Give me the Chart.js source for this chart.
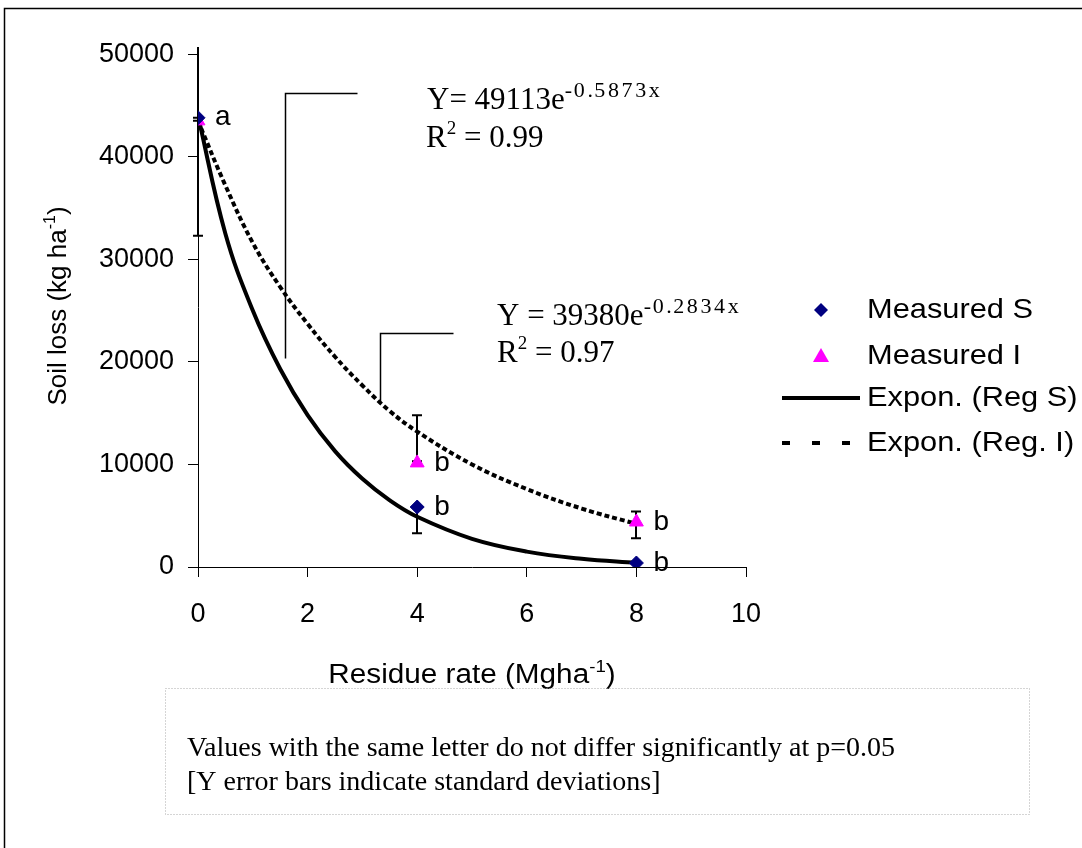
<!DOCTYPE html>
<html>
<head>
<meta charset="utf-8">
<script src="https://cdn.jsdelivr.net/npm/chart.js@4.4.1/dist/chart.umd.min.js"></script>
<style>
  body { margin: 0; background: #fff; }
  canvas { display: block; }
</style>
</head>
<body>
<canvas id="grafica" width="1082" height="848"></canvas>
<script>
// =======================
// DATOS
// =======================

// puntos medidos
const residuo = [0, 4, 8];
const medidoS = [43800, 5850, 390];
const medidoI = [43500, 10150, 4390];
const letrasS = ['a', 'b', 'b'];
const letrasI = ['', 'b', 'b'];

// barras de error (desv. estandar), bajo / alto
const errBajoS = [32300, 3300, null];
const errAltoS = [43800, 5850, null];
const errBajoI = [43500, 10300, 2800];
const errAltoI = [51500, 14800, 5400];

// lineas de tendencia
const xCurva = [0, 0.5, 1, 1.5, 2, 2.5, 3, 3.5, 4, 5, 6, 7, 8];
const curvaS = [44000, 32500, 25000, 19300, 14800, 11300, 8600, 6500, 4900, 2750, 1500, 800, 400];
const curvaI = [43500, 37200, 31600, 27300, 23700, 20500, 17700, 15200, 13200, 10000, 7600, 5700, 4200];

// ticks
const ticksX = [0, 2, 4, 6, 8, 10];
const ticksY = [0, 10000, 20000, 30000, 40000, 50000];

// lineas guia de las ecuaciones (coordenadas de datos)
const guiaS = { x: [1.59, 1.59, 2.9], y: [20380, 46220, 46220] };
const guiaI = { x: [3.32, 3.32, 4.65], y: [16090, 22820, 22820] };

const ARIAL = "'Liberation Sans', Arial, sans-serif";
const TIMES = "'Liberation Serif', 'Times New Roman', serif";

function pares(xs, ys) {
  return xs.map((x, i) => ({ x: x, y: ys[i] }));
}

// texto con superindices: partes = [[texto, tipo], ...]
// tipo: 0 normal, 1 superindice, 2 exponente (algo mas espaciado)
function textoSup(ctx, partes, x, y, tam, familia, dibujar = true) {
  let cx = x;
  partes.forEach(([t, tipo]) => {
    if (!tipo) {
      ctx.font = tam + 'px ' + familia;
      if (dibujar) ctx.fillText(t, cx, y);
      cx += ctx.measureText(t).width;
    } else if (tipo === 1) {
      ctx.font = Math.round(tam * 0.62) + 'px ' + familia;
      if (dibujar) ctx.fillText(t, cx, y - tam * 0.42);
      cx += ctx.measureText(t).width;
    } else {
      for (const c of t) {
        ctx.font = tam + 'px ' + familia;
        const w = ctx.measureText(c).width * 0.88;
        ctx.font = Math.round(tam * 0.7) + 'px ' + familia;
        if (dibujar) ctx.fillText(c, cx, y - tam * 0.4);
        cx += Math.max(w, ctx.measureText(c).width);
      }
    }
  });
  return cx - x;
}

const dibujo = {
  id: 'dibujo',
  beforeDraw(chart) {
    const ctx = chart.ctx;
    ctx.save();
    ctx.fillStyle = '#fff';
    ctx.fillRect(0, 0, chart.width, chart.height);
    ctx.restore();
  },
  beforeDatasetsDraw(chart) {
    const { ctx, chartArea, scales: { x, y } } = chart;
    ctx.save();
    ctx.beginPath();
    ctx.rect(chartArea.left - 10, chartArea.top, chartArea.width + 20, chartArea.height + 10);
    ctx.clip();
    ctx.strokeStyle = '#000';
    ctx.lineWidth = 2;
    const barra = (xv, lo, hi) => {
      if (lo == null || hi == null) return;
      const px = Math.round(x.getPixelForValue(xv));
      const p1 = y.getPixelForValue(lo), p2 = y.getPixelForValue(hi);
      ctx.beginPath();
      ctx.moveTo(px, p1); ctx.lineTo(px, p2);
      ctx.moveTo(px - 5, p1); ctx.lineTo(px + 5, p1);
      ctx.moveTo(px - 5, p2); ctx.lineTo(px + 5, p2);
      ctx.stroke();
    };
    residuo.forEach((r, i) => {
      barra(r, errBajoS[i], errAltoS[i]);
      barra(r, errBajoI[i], errAltoI[i]);
    });
    ctx.restore();
  },
  afterDatasetsDraw(chart) {
    const { ctx, scales: { x, y } } = chart;
    ctx.save();
    // letras de significancia
    ctx.fillStyle = '#000';
    ctx.font = '28px ' + ARIAL;
    ctx.textAlign = 'left';
    ctx.textBaseline = 'middle';
    residuo.forEach((r, i) => {
      const px = x.getPixelForValue(r) + 17;
      if (letrasS[i]) ctx.fillText(letrasS[i], px, y.getPixelForValue(medidoS[i]));
      if (letrasI[i]) ctx.fillText(letrasI[i], px, y.getPixelForValue(medidoI[i]));
    });
    // lineas guia
    ctx.strokeStyle = '#000';
    ctx.lineWidth = 1.5;
    [guiaS, guiaI].forEach(g => {
      ctx.beginPath();
      g.x.forEach((xv, i) => {
        const px = Math.round(x.getPixelForValue(xv)) + 0.5;
        const py = Math.round(y.getPixelForValue(g.y[i])) + 0.5;
        if (i === 0) ctx.moveTo(px, py); else ctx.lineTo(px, py);
      });
      ctx.stroke();
    });
    // ecuaciones
    ctx.textBaseline = 'alphabetic';
    textoSup(ctx, [['Y= 49113e', 0], ['-0.5873x', 2]], 427, 109, 31, TIMES);
    textoSup(ctx, [['R', 0], ['2', 1], [' = 0.99', 0]], 426, 147, 31, TIMES);
    textoSup(ctx, [['Y = 39380e', 0], ['-0.2834x', 2]], 497, 325, 31, TIMES);
    textoSup(ctx, [['R', 0], ['2', 1], [' = 0.97', 0]], 497, 362, 31, TIMES);
    ctx.restore();
  },
  afterDraw(chart) {
    const ctx = chart.ctx;
    ctx.save();
    ctx.fillStyle = '#000';
    ctx.textBaseline = 'alphabetic';
    ctx.textAlign = 'left';

    // titulo eje x
    const tx = [['Residue rate (Mgha', 0], ['-1', 1], [')', 0]];
    const wx = textoSup(ctx, tx, 0, 0, 27, ARIAL, false) * 1.1;
    ctx.save();
    ctx.translate(472 - wx / 2, 683);
    ctx.scale(1.1, 1);
    textoSup(ctx, tx, 0, 0, 27, ARIAL);
    ctx.restore();

    // titulo eje y (rotado)
    const ty = [['Soil loss (kg ha', 0], ['-1', 1], [')', 0]];
    const wy = textoSup(ctx, ty, 0, 0, 26, ARIAL, false);
    ctx.save();
    ctx.translate(66, 306);
    ctx.rotate(-Math.PI / 2);
    textoSup(ctx, ty, -wy / 2, 0, 26, ARIAL);
    ctx.restore();

    // leyenda
    const lx = 821, tX = 867;
    const filas = [310, 356, 398, 443];
    ctx.font = '28px ' + ARIAL;
    ctx.textBaseline = 'middle';
    const nombres = chart.data.datasets.map(d => d.label);
    nombres.forEach((n, i) => {
      ctx.save();
      ctx.translate(tX, filas[i]);
      ctx.scale(1.1, 1);
      ctx.fillText(n, 0, 0);
      ctx.restore();
    });
    // diamante
    ctx.fillStyle = '#000080';
    ctx.beginPath();
    ctx.moveTo(lx, filas[0] - 7); ctx.lineTo(lx + 7, filas[0]);
    ctx.lineTo(lx, filas[0] + 7); ctx.lineTo(lx - 7, filas[0]);
    ctx.closePath(); ctx.fill();
    // triangulo
    ctx.fillStyle = '#FF00FF';
    ctx.beginPath();
    ctx.moveTo(lx, filas[1] - 8); ctx.lineTo(lx + 8, filas[1] + 6);
    ctx.lineTo(lx - 8, filas[1] + 6);
    ctx.closePath(); ctx.fill();
    // lineas
    ctx.strokeStyle = '#000';
    ctx.lineWidth = 4;
    ctx.beginPath(); ctx.moveTo(782, filas[2]); ctx.lineTo(860, filas[2]); ctx.stroke();
    ctx.setLineDash([8, 22]);
    ctx.beginPath(); ctx.moveTo(782, filas[3]); ctx.lineTo(860, filas[3]); ctx.stroke();
    ctx.setLineDash([]);

    // nota inferior
    ctx.strokeStyle = '#aaa';
    ctx.lineWidth = 1;
    ctx.setLineDash([1, 2]);
    ctx.strokeRect(165.5, 688.5, 864, 126);
    ctx.setLineDash([]);
    ctx.fillStyle = '#000';
    ctx.font = '28px ' + TIMES;
    ctx.textBaseline = 'alphabetic';
    ctx.fillText('Values with the same letter do not differ significantly at p=0.05', 187, 756);
    ctx.fillText('[Y error bars indicate standard deviations]', 187, 790);

    // marco
    ctx.strokeStyle = '#000';
    ctx.lineWidth = 1.5;
    ctx.strokeRect(4.5, 8.5, 1200, 1000);
    ctx.restore();
  }
};

const ctx = document.getElementById('grafica').getContext('2d');
const grafica = new Chart(ctx, {
  type: 'scatter',
  data: {
    datasets: [{
      label: 'Measured S',
      data: pares(residuo, medidoS),
      pointStyle: 'rectRot',
      radius: 7,
      backgroundColor: '#000080',
      borderColor: '#000080',
      borderWidth: 1
    }, {
      label: 'Measured I',
      data: pares(residuo, medidoI),
      pointStyle: 'triangle',
      radius: 8,
      backgroundColor: '#FF00FF',
      borderColor: '#FF00FF',
      borderWidth: 1
    }, {
      label: 'Expon. (Reg S)',
      data: pares(xCurva, curvaS),
      showLine: true,
      pointRadius: 0,
      borderColor: '#000',
      borderWidth: 4,
      tension: 0.4
    }, {
      label: 'Expon. (Reg. I)',
      data: pares(xCurva, curvaI),
      showLine: true,
      pointRadius: 0,
      borderColor: '#000',
      borderWidth: 4,
      borderDash: [5, 3],
      tension: 0.4
    }]
  },
  options: {
    responsive: false,
    animation: false,
    devicePixelRatio: 1,
    layout: { padding: { top: 47, right: 336, bottom: 221, left: 0 } },
    plugins: {
      legend: { display: false },
      tooltip: { enabled: false }
    },
    scales: {
      x: {
        type: 'linear',
        min: 0,
        max: 10,
        afterFit: s => { s.height = 60; },
        afterBuildTicks: s => { s.ticks = ticksX.map(v => ({ value: v })); },
        grid: { drawOnChartArea: false, tickLength: 10, color: '#000', tickWidth: 1 },
        border: { color: '#000', width: 1 },
        ticks: { color: '#000', font: { family: ARIAL, size: 27 }, padding: 21, maxRotation: 0 }
      },
      y: {
        type: 'linear',
        min: 0,
        max: 50700,
        afterFit: s => { s.width = 198; },
        afterBuildTicks: s => { s.ticks = ticksY.map(v => ({ value: v })); },
        grid: { drawOnChartArea: false, tickLength: 10, color: '#000', tickWidth: 1 },
        border: { color: '#000', width: 1 },
        ticks: { color: '#000', font: { family: ARIAL, size: 27 }, padding: 14, callback: v => String(v) }
      }
    }
  },
  plugins: [dibujo]
});
</script>
</body>
</html>
